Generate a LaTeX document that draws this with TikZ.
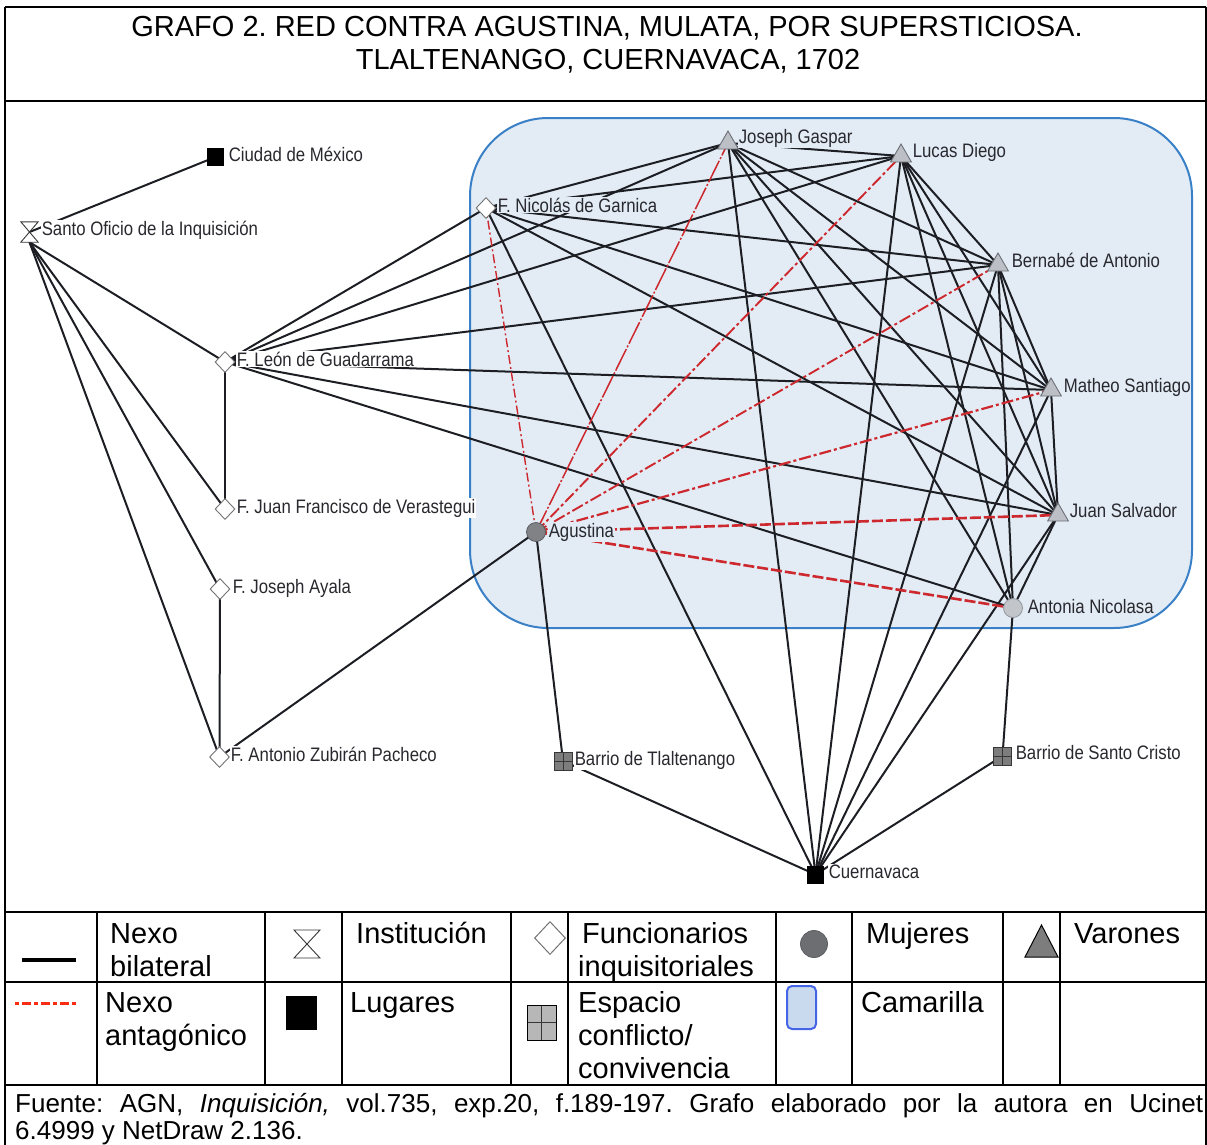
\documentclass[tikz,border=0pt]{standalone}
\usepackage{fontspec}
\setmainfont{Liberation Sans}
\newfontfamily\labfont[FakeStretch=0.86]{Liberation Sans}
\usetikzlibrary{shapes.geometric}
\pgfdeclarelayer{bglayer}
\pgfdeclarelayer{edgelayer}
\pgfsetlayers{bglayer,edgelayer,main}
\frenchspacing
\definecolor{camfill}{RGB}{227,236,245}
\definecolor{camdraw}{RGB}{58,128,198}
\definecolor{edgecol}{RGB}{28,30,36}
\definecolor{antcol}{RGB}{205,40,45}
\definecolor{labcol}{RGB}{40,40,46}
\definecolor{trifill}{RGB}{188,192,198}
\definecolor{tridraw}{RGB}{108,112,118}
\definecolor{diamcol}{RGB}{115,115,115}
\definecolor{agfill}{RGB}{128,130,134}
\definecolor{agdraw}{RGB}{92,94,98}
\definecolor{anfill}{RGB}{194,198,203}
\definecolor{andraw}{RGB}{146,150,156}
\definecolor{gridfill}{RGB}{125,125,125}
\definecolor{griddraw}{RGB}{55,55,55}
\definecolor{legred}{RGB}{250,45,20}
\definecolor{legcamfill}{RGB}{202,218,238}
\definecolor{legcamdraw}{RGB}{70,100,230}
\tikzset{
  bil/.style={draw=edgecol, line width=2pt},
  antA/.style={draw=antcol, line width=1.4pt, dash pattern=on 9pt off 3pt on 2pt off 3pt},
  antB/.style={draw=antcol, line width=1.5pt, dash pattern=on 24pt off 2pt on 2pt off 2pt},
  antC/.style={draw=antcol, line width=1.9pt, dash pattern=on 12pt off 3pt on 3pt off 3pt},
  antD/.style={draw=antcol, line width=2.2pt, dash pattern=on 12pt off 3pt on 3pt off 3pt},
  antE/.style={draw=antcol, line width=2.6pt, dash pattern=on 11pt off 3pt},
  lab/.style={anchor=base west, inner sep=0.6pt, text=labcol, font=\labfont\fontsize{19.5}{22}\selectfont},
  labc/.style={lab, fill=camfill},
  labw/.style={lab, fill=white},
  sqnode/.style={rectangle, fill=black, minimum width=17pt, minimum height=18pt, inner sep=0pt},
  diam/.style={diamond, draw=diamcol, fill=white, line width=0.9pt, minimum width=20pt, minimum height=21pt, inner sep=0pt},
  tri/.style={regular polygon, regular polygon sides=3, minimum size=24pt, inner sep=0pt, fill=trifill, draw=tridraw, line width=0.9pt},
  womanA/.style={circle, minimum size=19pt, inner sep=0pt, fill=agfill, draw=agdraw, line width=0.8pt},
  womanB/.style={circle, minimum size=19pt, inner sep=0pt, fill=anfill, draw=andraw, line width=0.8pt},
  gridsq/.style={rectangle, minimum width=18pt, minimum height=18pt, inner sep=0pt, fill=gridfill, draw=griddraw, line width=0.9pt,
    path picture={\draw[griddraw, line width=0.9pt] (path picture bounding box.north) -- (path picture bounding box.south) (path picture bounding box.west) -- (path picture bounding box.east);}},
  hourg/.style={draw=griddraw, fill=white, line width=0.9pt},
  legtext/.style={anchor=base west, inner sep=0pt, font=\fontsize{29}{33}\selectfont},
  frameline/.style={line width=2pt, draw=black},
  cambox/.style={rectangle, rounded corners=78pt, fill=camfill, draw=camdraw, line width=2pt},
}
\begin{document}
\begin{tikzpicture}[x=1pt,y=-1pt]
\useasboundingbox (0,0) rectangle (1207,1144);

% ---------- frame and title ----------
\draw[frameline] (5,7) -- (1206,7);
\draw[frameline] (5,7) -- (5,1150);
\draw[frameline] (1206,7) -- (1206,1150);
\foreach \yy in {101,912,982,1085} \draw[frameline] (5,\yy) -- (1206,\yy);
\foreach \xx in {97,265,342,511,568,776,852,1003,1060} \draw[frameline] (\xx,912) -- (\xx,1085);

\node[anchor=base, inner sep=0pt, font=\fontsize{29}{33}\selectfont] (title1) at (607,36) {GRAFO 2. RED CONTRA AGUSTINA, MULATA, POR SUPERSTICIOSA.};
\node[anchor=base, inner sep=0pt, font=\fontsize{29}{33}\selectfont] (title2) at (608,69) {TLALTENANGO, CUERNAVACA, 1702};

% ---------- camarilla ----------
\begin{pgfonlayer}{bglayer}
\node[cambox, minimum width=722pt, minimum height=510pt] (camarilla) at (831,373) {};
\end{pgfonlayer}

% ---------- node symbols ----------
\node[rectangle, minimum width=17pt, minimum height=20pt, inner sep=0pt] (so) at (29.5,232) {};
\draw[hourg] (so.north west) -- (so.north east) -- (so.south west) -- (so.south east) -- cycle;
\node[sqnode] (ciudad) at (215.5,157) {};
\node[diam] (leon) at (225,362) {};
\node[diam] (veras) at (225,509) {};
\node[diam] (ayala) at (220,589) {};
\node[diam] (zubiran) at (219.5,757) {};
\node[diam] (garnica) at (486,208) {};
\node[tri] (gaspar) at (728,143) {};
\node[tri] (lucas) at (901,156) {};
\node[tri] (bernabe) at (998,265) {};
\node[tri] (matheo) at (1051,390) {};
\node[tri] (juan) at (1058,515) {};
\node[womanB] (antonia) at (1013,608) {};
\node[womanA] (agustina) at (536,532) {};
\node[gridsq] (tlal) at (563,761) {};
\node[gridsq] (scristo) at (1002.5,756) {};
\node[sqnode] (cuerna) at (815.5,874.5) {};

% ---------- labels ----------
\node[labw] (so-l) at (41,235) {Santo Oficio de la Inquisición};
\node[labw] (ciudad-l) at (228,161) {Ciudad de México};
\node[labw] (leon-l) at (236,366) {F. León de Guadarrama};
\node[labw] (veras-l) at (236,513) {F. Juan Francisco de Verastegui};
\node[labw] (ayala-l) at (232,593) {F. Joseph Ayala};
\node[labw] (zubiran-l) at (230,761) {F. Antonio Zubirán Pacheco};
\node[labc] (garnica-l) at (497,212) {F. Nicolás de Garnica};
\node[labc] (gaspar-l) at (738,143) {Joseph Gaspar};
\node[labc] (lucas-l) at (912,157) {Lucas Diego};
\node[labc] (bernabe-l) at (1011,267) {Bernabé de Antonio};
\node[labc] (matheo-l) at (1063,392) {Matheo Santiago};
\node[labc] (juan-l) at (1069,517) {Juan Salvador};
\node[labc] (antonia-l) at (1027,613) {Antonia Nicolasa};
\node[labc] (agustina-l) at (548,537) {Agustina};
\node[labw] (tlal-l) at (574,765) {Barrio de Tlaltenango};
\node[labw] (scristo-l) at (1015,759) {Barrio de Santo Cristo};
\node[labw] (cuerna-l) at (828,878) {Cuernavaca};

% ---------- edges ----------
\begin{pgfonlayer}{edgelayer}
\draw[bil] (so.center) -- (ciudad.center);
\foreach \t in {leon,veras,ayala,zubiran} \draw[bil] (so.south) -- (\t.center);
\draw[bil] (leon.center) -- (veras.center);
\foreach \t in {garnica,gaspar,lucas,bernabe,matheo,juan,antonia} \draw[bil] (leon.center) -- (\t.center);
\draw[bil] (ayala.center) -- (zubiran.center);
\draw[bil] (zubiran.center) -- (agustina.center);
\foreach \t in {gaspar,lucas,bernabe,matheo,juan,cuerna} \draw[bil] (garnica.center) -- (\t.center);
\foreach \t in {lucas,bernabe,matheo,juan,antonia,cuerna} \draw[bil] (gaspar.center) -- (\t.center);
\foreach \t in {bernabe,matheo,juan,antonia,cuerna} \draw[bil] (lucas.center) -- (\t.center);
\foreach \t in {matheo,juan,antonia,cuerna} \draw[bil] (bernabe.center) -- (\t.center);
\foreach \t in {juan,cuerna} \draw[bil] (matheo.center) -- (\t.center);
\foreach \t in {antonia,cuerna} \draw[bil] (juan.center) -- (\t.center);
\draw[bil] (antonia.center) -- (scristo.center);
\draw[bil] (scristo.center) -- (cuerna.center);
\draw[bil] (agustina.center) -- (tlal.center);
\draw[bil] (tlal.center) -- (cuerna.center);
% antagonistic ties
\draw[antA] (agustina.center) -- (garnica.center);
\draw[antB] (agustina.center) -- (gaspar.center);
\draw[antC] (agustina.center) -- (lucas.center);
\draw[antC] (agustina.center) -- (bernabe.center);
\draw[antD] (agustina.center) -- (matheo.center);
\draw[antE] (agustina.center) -- (juan.center);
\draw[antE] (agustina.center) -- (antonia.center);
\end{pgfonlayer}

% ---------- legend ----------
\coordinate (lgA1) at (22,960);
\coordinate (lgA2) at (76,960);
\draw[line width=3.5pt] (lgA1) -- (lgA2);
\coordinate (lgB1) at (15,1003);
\coordinate (lgB2) at (77,1003);
\draw[legred, line width=3pt, dash pattern=on 4pt off 3pt on 9pt off 3pt] (lgB1) -- (lgB2);

\draw[hourg] (294,930) -- (320,930) -- (294,958) -- (320,958) -- cycle;
\node[diamond, draw=diamcol, fill=white, line width=1pt, minimum width=31pt, minimum height=33pt, inner sep=0pt] (lg-diam) at (550,938) {};
\node[circle, fill=agfill!85!black, draw=agdraw, line width=0.8pt, minimum size=27pt, inner sep=0pt] (lg-circ) at (814,944) {};
\draw[fill=gridfill, draw=black, line width=1pt] (1025,957) -- (1058,957) -- (1041.5,925) -- cycle;
\node[rectangle, fill=black, minimum width=31pt, minimum height=34pt, inner sep=0pt] (lg-sq) at (301.5,1013) {};
\node[gridsq, fill=gridfill!55!white, draw=black, minimum width=29pt, minimum height=35pt] (lg-grid) at (541.5,1022.5) {};
\node[rectangle, rounded corners=5pt, fill=legcamfill, draw=legcamdraw, line width=2pt, minimum width=29pt, minimum height=43pt, inner sep=0pt] (lg-cam) at (801.5,1007.5) {};

\node[legtext] (t1) at (110,943) {Nexo};
\node[legtext] (t2) at (110,976) {bilateral};
\node[legtext] (t3) at (356,943) {Institución};
\node[legtext] (t4) at (582,943) {Funcionarios};
\node[legtext] (t5) at (578,976) {inquisitoriales};
\node[legtext] (t6) at (866,943) {Mujeres};
\node[legtext] (t7) at (1074,943) {Varones};
\node[legtext] (t8) at (105,1012) {Nexo};
\node[legtext] (t9) at (105,1045) {antagónico};
\node[legtext] (t10) at (350,1012) {Lugares};
\node[legtext] (t11) at (578,1012) {Espacio};
\node[legtext] (t12) at (578,1045) {conflicto/};
\node[legtext] (t13) at (578,1078) {convivencia};
\node[legtext] (t14) at (861,1012) {Camarilla};

% ---------- source ----------
\node[anchor=base west, inner sep=0pt, font=\fontsize{26}{29}\selectfont] (src1) at (15,1112)
  {\makebox[1188pt][s]{Fuente: AGN, \textit{Inquisición,} vol.735, exp.20, f.189-197. Grafo elaborado por la autora en Ucinet}};
\node[anchor=base west, inner sep=0pt, font=\fontsize{26}{29}\selectfont] (src2) at (15,1139) {6.4999 y NetDraw 2.136.};
\end{tikzpicture}
\end{document}
